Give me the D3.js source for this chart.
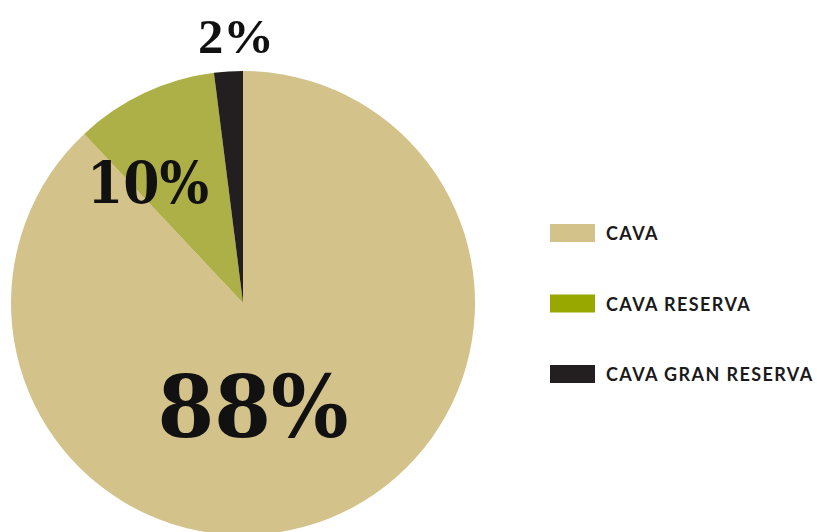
<!DOCTYPE html>
<html>
<head>
<meta charset="utf-8">
<script src="https://cdn.jsdelivr.net/npm/d3@7"></script>
<style>
  body { margin: 0; background: #fff; }
</style>
</head>
<body>
<div class="canvas"></div>
<script>
// data
const categories = ['CAVA', 'CAVA RESERVA', 'CAVA GRAN RESERVA'];
const values = [88, 10, 2];
const labels = ['88%', '10%', '2%'];

const pieColors = ['#d4c28b', '#adaf47', '#231f20'];
const legendColors = ['#d4c28b', '#99a800', '#231f20'];

const svg = d3.select('.canvas')
    .append('svg')
    .attr('width', 817)
    .attr('height', 532);

const cx = 243, cy = 303, radius = 232;

const graph = svg.append('g')
    .attr('transform', `translate(${cx}, ${cy})`);

const pie = d3.pie().sort(null).value(d => d);
const arc = d3.arc().innerRadius(0).outerRadius(radius);

const arcs = pie(values);

graph.selectAll('path')
    .data(arcs)
    .enter()
    .append('path')
    .attr('d', arc)
    .attr('fill', (d, i) => pieColors[i]);

// label placement (offsets from pie centre), size, weight, target width
const labelStyle = [
    { dx: 10, dy: 437, size: 86, weight: 'bold', w: 191 },
    { dx: -95, dy: 203, size: 57, weight: 'bold', w: 122 },
    { dx: -7, dy: 53, size: 49, weight: 'bold', w: 76 }
];

svg.selectAll('text.pct')
    .data(labels)
    .enter()
    .append('text')
    .attr('class', 'pct')
    .attr('x', (d, i) => cx + labelStyle[i].dx)
    .attr('y', (d, i) => labelStyle[i].dy)
    .attr('text-anchor', 'middle')
    .attr('fill', '#111')
    .attr('font-family', (d, i) => i === 2 ? '"Liberation Serif", serif' : '"DejaVu Serif", serif')
    .attr('font-weight', (d, i) => labelStyle[i].weight)
    .attr('font-size', (d, i) => labelStyle[i].size)
    .attr('textLength', (d, i) => labelStyle[i].w)
    .attr('lengthAdjust', 'spacingAndGlyphs')
    .text(d => d);

// legend
const legend = svg.append('g')
    .attr('transform', 'translate(550, 224)');

const items = legend.selectAll('g')
    .data(categories)
    .enter()
    .append('g')
    .attr('transform', (d, i) => `translate(0, ${i * 70.5})`);

items.append('rect')
    .attr('width', 45)
    .attr('height', 18)
    .attr('fill', (d, i) => legendColors[i]);

items.append('text')
    .attr('x', 56)
    .attr('y', 16)
    .attr('fill', '#1a1a1a')
    .attr('font-family', 'Lato, sans-serif')
    .attr('font-weight', 'bold')
    .attr('font-size', 18)
    .attr('letter-spacing', 1.4)
    .text(d => d);
</script>
</body>
</html>
